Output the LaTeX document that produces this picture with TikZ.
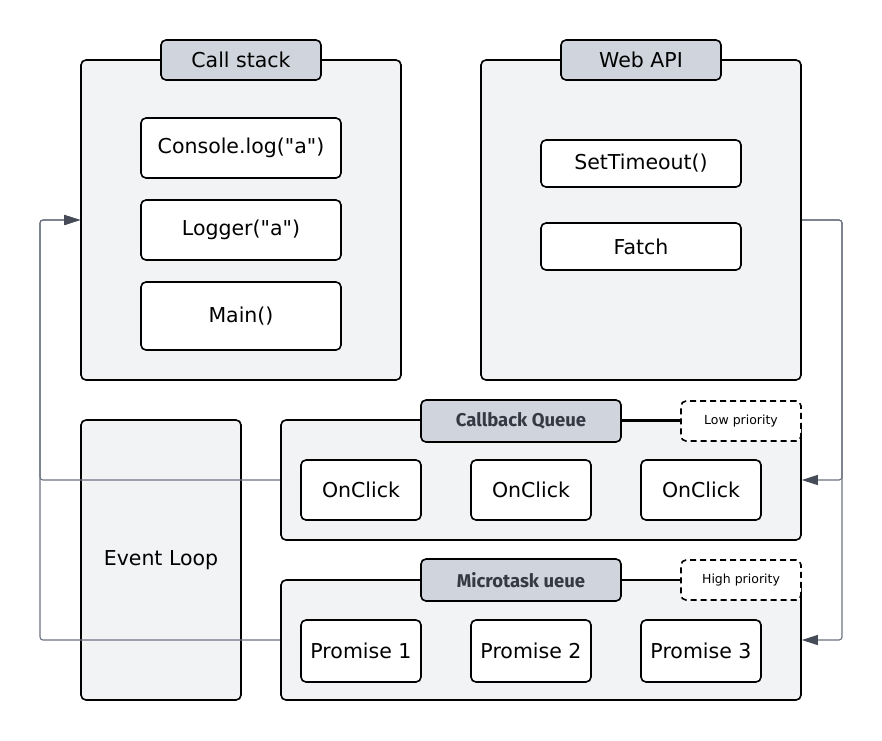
\documentclass[tikz,border=0pt]{standalone}
\usepackage{fontspec}
\setmainfont{DejaVu Sans}[Ligatures=TeXOff]
\newfontfamily\tabfont{Fira Sans}
\usetikzlibrary{arrows.meta}
\definecolor{panelgray}{HTML}{F2F3F5}
\definecolor{tabgray}{HTML}{D0D5DD}
\definecolor{linkgray}{HTML}{6B7280}
\definecolor{tipgray}{HTML}{464C57}
\definecolor{tabtext}{HTML}{343A44}

\begin{document}
\begin{tikzpicture}[x=1pt,y=-1pt,
    panel/.style 2 args={draw=black,line width=1.6pt,fill=panelgray,rounded corners=5pt,
      minimum width=#1,minimum height=#2,inner sep=0pt,font=\fontsize{20.5}{24}\selectfont},
    tab/.style 2 args={panel={#1}{#2},fill=tabgray},
    queuetab/.style={tab={200pt}{42pt},font=\tabfont\bfseries\fontsize{18.5}{22}\selectfont,text=tabtext},
    item/.style 2 args={panel={#1}{#2},fill=white},
    note/.style={draw=black,line width=1.6pt,dash pattern=on 6pt off 4pt,fill=white,rounded corners=5pt,
      minimum width=120pt,minimum height=40pt,inner sep=0pt,font=\fontsize{12.5}{15}\selectfont},
    tie/.style={draw=black,line width=1.6pt},
    link/.style={draw=linkgray,line width=1.1pt,rounded corners=3pt,
      -{Triangle[length=16pt,width=10pt,color=tipgray]}}]
  \useasboundingbox (0,0) rectangle (882,740);
  \coordinate (lft) at (40,0);
  \coordinate (rgt) at (842,0);

  \node[panel={320pt}{320pt}] (stack) at (241,220) {};
  \node[tab={160pt}{40pt}] (stacktab) at (241,60) {\raisebox{-5pt}{Call stack}};
  \node[item={200pt}{60pt}] (consolelog) at (241,148) {Console.log("a")};
  \node[item={200pt}{60pt}] (logger) at (241,230) {Logger("a")};
  \node[item={200pt}{68pt}] (main) at (241,316) {Main()};

  \node[panel={320pt}{320pt}] (webapi) at (641,220) {};
  \node[tab={160pt}{40pt}] (webapitab) at (641,60) {\raisebox{-5pt}{Web API}};
  \node[item={200pt}{47pt}] (settimeout) at (641,163.5) {SetTimeout()};
  \node[item={200pt}{47pt}] (fatch) at (641,246.5) {Fatch};

  \node[panel={160pt}{280pt}] (eventloop) at (161,560) {Event Loop};

  \node[panel={520pt}{120pt}] (callback) at (541,480) {};
  \node[queuetab] (callbacktab) at (521,421) {Callback Queue};
  \node[note] (low) at (741,421) {Low priority};
  \draw[tie] (callbacktab.east) -- (low.west);
  \node[item={120pt}{60pt}] (onclickA) at (361,490) {OnClick};
  \node[item={120pt}{60pt}] (onclickB) at (531,490) {OnClick};
  \node[item={120pt}{60pt}] (onclickC) at (701,490) {OnClick};

  \node[panel={520pt}{120pt}] (micro) at (541,640) {};
  \node[queuetab] (microtab) at (521,580) {Microtask ueue};
  \node[note] (high) at (741,580) {High priority};
  \draw[tie] (microtab.east) -- (high.west);
  \node[item={120pt}{62pt}] (promiseA) at (361,651) {Promise 1};
  \node[item={120pt}{62pt}] (promiseB) at (531,651) {Promise 2};
  \node[item={120pt}{62pt}] (promiseC) at (701,651) {Promise 3};

  \draw[link] (callback.west) -- (callback.west -| lft) -- (stack.west -| lft) -- (stack.west);
  \draw[link] (micro.west) -- (micro.west -| lft) -- (stack.west -| lft) -- (stack.west);
  \draw[link] (webapi.east) -- (webapi.east -| rgt) -- (callback.east -| rgt) -- (callback.east);
  \draw[link] (webapi.east) -- (webapi.east -| rgt) -- (micro.east -| rgt) -- (micro.east);
\end{tikzpicture}
\end{document}
